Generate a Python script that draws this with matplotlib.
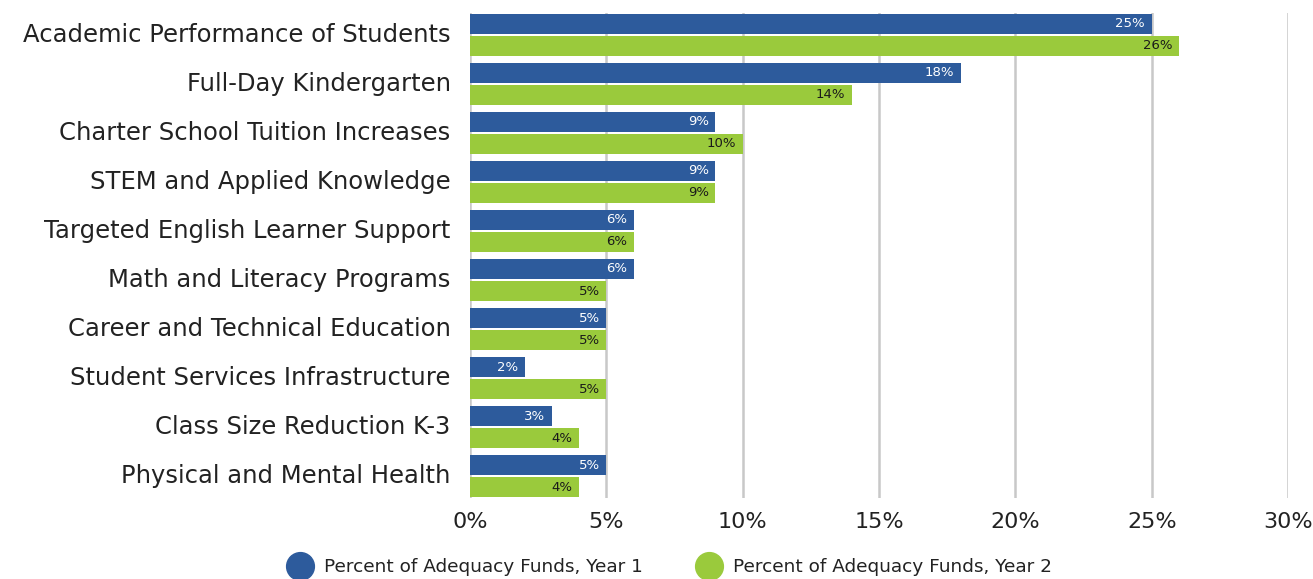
import matplotlib.pyplot as plt
import numpy as np
from matplotlib.lines import Line2D

categories = [
    "Academic Performance of Students",
    "Full-Day Kindergarten",
    "Charter School Tuition Increases",
    "STEM and Applied Knowledge",
    "Targeted English Learner Support",
    "Math and Literacy Programs",
    "Career and Technical Education",
    "Student Services Infrastructure",
    "Class Size Reduction K-3",
    "Physical and Mental Health",
]
year1 = [25, 18, 9, 9, 6, 6, 5, 2, 3, 5]
year2 = [26, 14, 10, 9, 6, 5, 5, 5, 4, 4]
series_names = ["Percent of Adequacy Funds, Year 1", "Percent of Adequacy Funds, Year 2"]
xticks = [0, 5, 10, 15, 20, 25, 30]

blue = "#2D5B9C"
green = "#9ACA3C"

plt.rcParams['font.family'] = ['DejaVu Sans']

fig = plt.figure(figsize=(13.13, 5.79), dpi=100)
ax = fig.add_axes([0.358, 0.14, 0.623, 0.8375])

y = np.arange(len(categories))
h = 0.41
b1 = ax.barh(y - h / 2 - 0.02, year1, height=h, color=blue, zorder=3)
b2 = ax.barh(y + h / 2 + 0.02, year2, height=h, color=green, zorder=3)

# value labels at the inner end of each bar
for bars, vals, col in [(b1, year1, "white"), (b2, year2, "#1a1a1a")]:
    for bar, v in zip(bars, vals):
        ax.text(bar.get_width() - 0.25, bar.get_y() + bar.get_height() / 2,
                f"{v}%", ha="right", va="center", fontsize=9.5, color=col, zorder=4)

ax.set_xlim(0, 30)
ax.set_ylim(len(categories) - 0.56, -0.44)
ax.set_xticks(xticks)
ax.set_xticklabels([f"{t}%" for t in xticks], fontsize=16, color="#222222")
ax.set_yticks(y)
ax.set_yticklabels(categories, fontsize=17.5, color="#222222", va="center")
ax.tick_params(length=0)
ax.tick_params(axis="x", pad=10)
ax.tick_params(axis="y", pad=14)
ax.grid(axis="x", color="#C8C8C8", linewidth=1.8, zorder=0)
for s in ax.spines.values():
    s.set_visible(False)

handles = [Line2D([], [], marker="o", linestyle="", markersize=20, color=blue),
           Line2D([], [], marker="o", linestyle="", markersize=20, color=green)]
fig.legend(handles, series_names, loc="lower center", bbox_to_anchor=(0.508, -0.024),
           ncol=2, frameon=False, fontsize=13.3, handletextpad=0.3, columnspacing=2.6,
           labelcolor="#222222")

fig.savefig("out.png", dpi=100)
